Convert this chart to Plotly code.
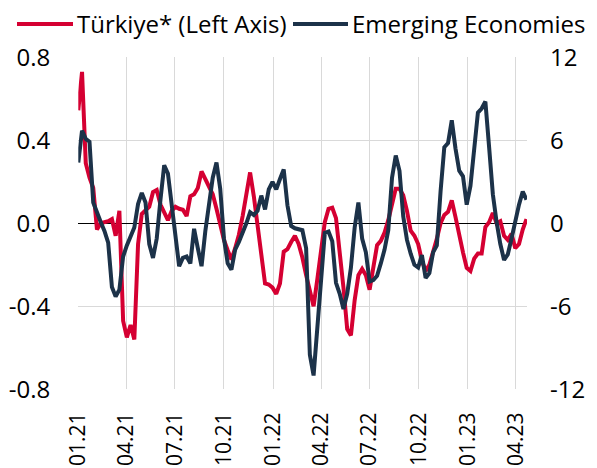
import pandas as pd
import plotly.graph_objects as go

start_date = "2021-01-01"
n_weeks = 121

turkiye = [
    0.545, 0.73, 0.29, 0.22, 0.17, -0.03, 0.0, 0.005, 0.01, 0.02,
    -0.06, 0.06, -0.47, -0.55, -0.49, -0.56, -0.1, 0.045, 0.06, 0.08,
    0.15, 0.16, 0.09, 0.05, 0.015, 0.06, 0.08, 0.07, 0.065, 0.035,
    0.13, 0.14, 0.17, 0.25, 0.21, 0.175, 0.14, 0.07, -0.01, -0.08,
    -0.13, -0.175, -0.12, -0.055, 0.035, 0.14, 0.245, 0.13, -0.01, -0.16,
    -0.29, -0.295, -0.31, -0.34, -0.29, -0.137, -0.125, -0.09, -0.06, -0.10,
    -0.165, -0.25, -0.33, -0.40, -0.27, -0.12, 0.005, 0.07, 0.075, 0.025,
    -0.13, -0.31, -0.51, -0.54, -0.37, -0.25, -0.22, -0.25, -0.32, -0.22,
    -0.105, -0.085, -0.045, 0.015, 0.1, 0.167, 0.167, 0.135, 0.06, -0.036,
    -0.06, -0.1, -0.18, -0.23, -0.2, -0.14, -0.075, 0.0, 0.04, 0.055,
    0.11, 0.03, -0.06, -0.14, -0.215, -0.23, -0.17, -0.146, -0.146, -0.018,
    0.005, 0.05, 0.0, 0.01, -0.06, -0.08, -0.05, -0.12, -0.1, -0.03,
    0.02,
]

emerging = [
    4.4, 6.7, 6.1, 5.9, 1.5, 0.7, 0.1, -0.55, -1.4, -4.6,
    -5.3, -4.8, -2.4, -1.6, -1.0, -0.3, 1.4, 2.2, 1.5, -1.5,
    -2.5, -1.1, 1.7, 4.2, 3.6, 1.3, -1.3, -3.1, -2.5, -2.4,
    -2.9, -0.4, -1.8, -3.1, -0.6, 1.6, 3.3, 4.4, 2.5, -1.1,
    -2.9, -3.35, -1.9, -1.35, -0.7, 0.0, 0.8, 0.6, 0.9, 2.0,
    1.0, 2.45, 3.0, 2.45, 3.2, 3.9, 1.3, -0.2, -0.36, -0.4,
    -0.5, -1.8, -9.5, -11.0, -7.6, -3.5, -0.7, -0.6, -1.3, -4.3,
    -5.1, -6.2, -5.1, -3.2, -0.3, 1.5, -1.1, -2.1, -4.2, -4.1,
    -3.8, -2.9, -1.9, -0.5, 3.3, 4.9, 3.8, 0.5, -1.2, -2.2,
    -3.0, -3.2, -2.3, -3.95, -3.6, -2.1, -1.6, 2.3, 5.5, 5.8,
    7.45, 5.4, 3.8, 3.4, 1.35, 2.7, 5.7, 8.0, 8.3, 8.8,
    5.5, 2.1, 0.1, -1.5, -2.65, -2.25, -1.1, 0.2, 1.35, 2.3,
    1.7,
]

tick_dates = ["2021-01-01", "2021-04-01", "2021-07-01", "2021-10-01", "2022-01-01",
              "2022-04-01", "2022-07-01", "2022-10-01", "2023-01-01", "2023-04-01"]
tick_labels = ["01.21", "04.21", "07.21", "10.21", "01.22",
               "04.22", "07.22", "10.22", "01.23", "04.23"]

left_ticks = [-0.8, -0.4, 0.0, 0.4, 0.8]
left_labels = ["-0.8", "-0.4", "0.0", "0.4", "0.8"]
right_ticks = [-12, -6, 0, 6, 12]
right_labels = ["-12", "-6", "0", "6", "12"]

series_names = ["Türkiye* (Left Axis)", "Emerging Economies"]

dates = pd.date_range(start_date, periods=n_weeks, freq="7D")

RED = "#D50032"
NAVY = "#1C3249"
FONT = "Open Sans"
W, H = 597, 468
OFF = 8  # page body margin offset in the browser


def px(x):
    return (x - OFF) / W


def py(y):
    return 1 - (y - OFF) / H


fig = go.Figure()
fig.add_trace(go.Scatter(x=dates, y=turkiye, mode="lines", name=series_names[0],
                         line=dict(color=RED, width=4), yaxis="y", showlegend=False))
fig.add_trace(go.Scatter(x=dates, y=emerging, mode="lines", name=series_names[1],
                         line=dict(color=NAVY, width=4), yaxis="y2", showlegend=False))

# legend: long line samples followed by the series names
legend_y = py(24)
legend_items = [(17, 73, 75, RED, series_names[0]), (293, 348, 350, NAVY, series_names[1])]
for x0, x1, xt, col, name in legend_items:
    fig.add_shape(type="line", xref="paper", yref="paper",
                  x0=px(x0), x1=px(x1), y0=legend_y, y1=legend_y,
                  line=dict(color=col, width=4))
    fig.add_annotation(xref="paper", yref="paper", x=px(xt), y=legend_y,
                       xanchor="left", yanchor="middle", text=name, showarrow=False,
                       font=dict(family=FONT, size=24, color="black"))

fig.update_layout(
    width=W, height=H,
    margin=dict(l=0, r=0, t=0, b=0),
    paper_bgcolor="white", plot_bgcolor="white",
    font=dict(family=FONT, size=21, color="black"),
    showlegend=False,
    xaxis=dict(type="date", range=["2021-01-01", "2023-04-22"],
               domain=[px(78.3), px(527)],
               tickvals=tick_dates, ticktext=tick_labels, tickangle=-90,
               showgrid=True, gridcolor="#D9D9D9", gridwidth=1,
               ticks="", ticklabelstandoff=18, showline=False, zeroline=False,
               tickfont=dict(size=21), automargin=False),
    yaxis=dict(range=[-0.8, 0.8], tickvals=left_ticks, ticktext=left_labels,
               domain=[py(389.3), py(57.3)],
               showgrid=True, gridcolor="#D9D9D9", gridwidth=1,
               zeroline=True, zerolinecolor="black", zerolinewidth=1,
               ticks="", ticklabelstandoff=27, showline=False,
               tickfont=dict(size=24), automargin=False),
    yaxis2=dict(range=[-12, 12], tickvals=right_ticks, ticktext=right_labels,
                overlaying="y", side="right",
                showgrid=False, zeroline=False, ticks="", ticklabelstandoff=22,
                showline=False, tickfont=dict(size=24), automargin=False),
)

fig.write_html("out.html")
